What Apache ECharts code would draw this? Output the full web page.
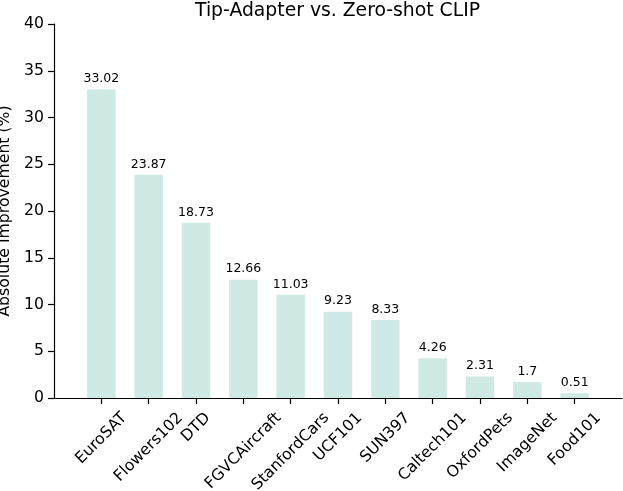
<!DOCTYPE html>
<html>

<head>
  <meta charset="utf-8">
  <title>Tip-Adapter vs. Zero-shot CLIP</title>
  <script src="https://cdn.jsdelivr.net/npm/echarts@6/dist/echarts.min.js"></script>
</head>

<body style="margin:0">
  <div id="main" style="width: 623px;height:491px;"></div>
  <script type="text/javascript">
    var datasets = ['EuroSAT', 'Flowers102', 'DTD', 'FGVCAircraft', 'StanfordCars', 'UCF101',
      'SUN397', 'Caltech101', 'OxfordPets', 'ImageNet', 'Food101'];
    var improvement = [33.02, 23.87, 18.73, 12.66, 11.03, 9.23, 8.33, 4.26, 2.31, 1.7, 0.51];
    var yTicks = [0, 5, 10, 15, 20, 25, 30, 35, 40];

    var FONT = '"DejaVu Sans", sans-serif';
    var labelSize = 15.7;
    var positions = datasets.map(function (d, i) { return i; });

    // matplotlib centres rotated tick labels under the tick; echarts rotates around the anchor,
    // so push every label down by half its rotated box via padding
    var ctx = document.createElement('canvas').getContext('2d');
    ctx.font = labelSize + 'px ' + FONT;
    var rich = {};
    datasets.forEach(function (name, i) {
      var w = ctx.measureText(name).width;
      var h = labelSize * 1.164;
      var d = 11 + (w + h) * 0.3536;
      var p = 1.4142 * d;
      rich['l' + i] = {
        fontSize: labelSize,
        fontFamily: FONT,
        color: '#000',
        padding: [p, p, 0, 0]
      };
    });

    var myChart = echarts.init(document.getElementById('main'));

    var option = {
      animation: false,
      title: {
        text: 'Tip-Adapter vs. Zero-shot CLIP',
        left: 195,
        top: 2,
        padding: 0,
        textStyle: {
          fontFamily: FONT,
          fontSize: 18.8,
          fontWeight: 'normal',
          color: '#000'
        }
      },
      grid: {
        left: 54,
        right: 1,
        top: 24,
        bottom: 93,
        outerBoundsMode: 'none'
      },
      xAxis: {
        type: 'value',
        min: -1,
        max: 11,
        splitLine: { show: false },
        axisLine: { lineStyle: { color: '#000', width: 1.2 } },
        axisTick: {
          customValues: positions,
          length: 6,
          lineStyle: { color: '#000', width: 1.2 }
        },
        axisLabel: {
          customValues: positions,
          rotate: 45,
          align: 'center',
          verticalAlign: 'middle',
          margin: 0,
          rich: rich,
          formatter: function (v) {
            return '{l' + v + '|' + datasets[v] + '}';
          }
        }
      },
      yAxis: {
        type: 'value',
        min: yTicks[0],
        max: yTicks[yTicks.length - 1],
        interval: 5,
        name: 'Absolute Improvement (%)',
        nameLocation: 'middle',
        nameGap: 35,
        nameTextStyle: { fontFamily: FONT, fontSize: labelSize, color: '#000' },
        splitLine: { show: false },
        axisLine: { show: true, onZero: false, lineStyle: { color: '#000', width: 1.2 } },
        axisTick: { show: true, length: 6, lineStyle: { color: '#000', width: 1.2 } },
        axisLabel: { fontFamily: FONT, fontSize: labelSize, color: '#000', margin: 10 }
      },
      series: [{
        type: 'bar',
        barWidth: 28.5,
        itemStyle: { color: '#cfeae5' },
        data: improvement.map(function (v, i) { return [i, v]; }),
        label: {
          show: true,
          position: 'top',
          distance: 4,
          fontFamily: FONT,
          fontSize: 12.5,
          color: '#000',
          formatter: function (p) { return String(p.value[1]); }
        }
      }]
    };

    myChart.setOption(option);
  </script>
</body>

</html>
